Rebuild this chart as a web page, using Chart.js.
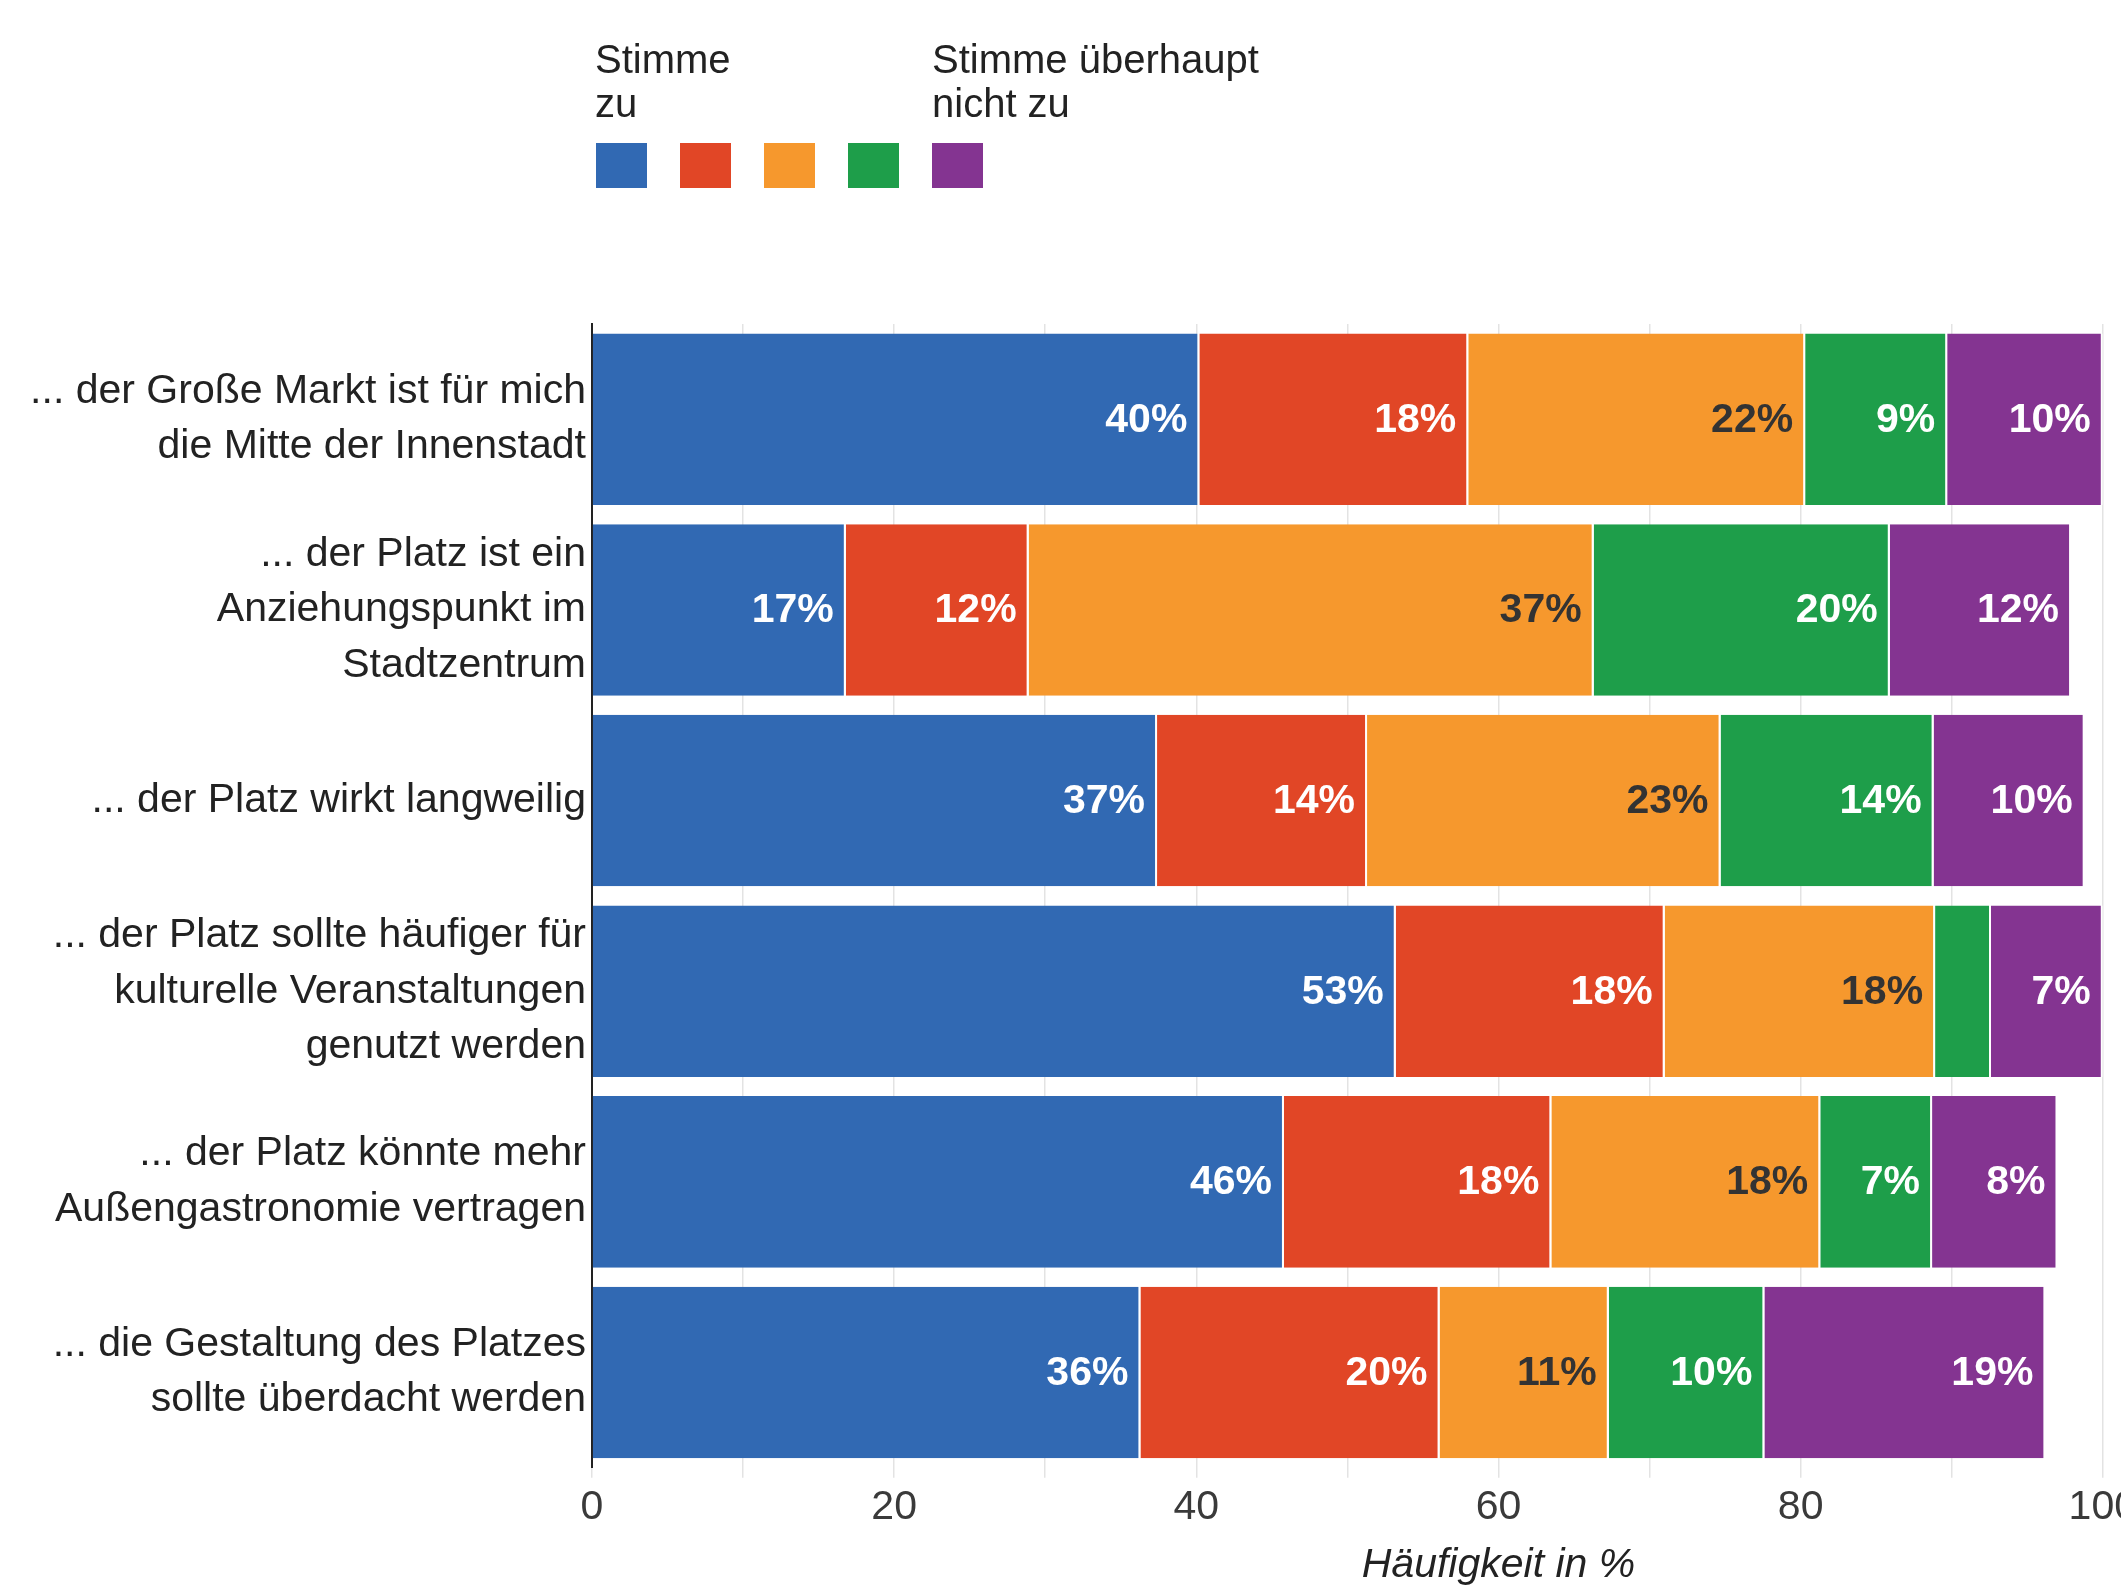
<!DOCTYPE html>
<html lang="de">
<head>
<meta charset="utf-8">
<title>Großer Markt – Befragung</title>
<script src="https://cdn.jsdelivr.net/npm/chart.js@4.4.1/dist/chart.umd.min.js"></script>
<style>
  html, body { margin: 0; padding: 0; background: #fff; overflow: hidden; }
  #wrap { position: relative; width: 2142px; height: 1590px; }
</style>
</head>
<body>
<div id="wrap"><canvas id="grafico-platz"></canvas></div>
<script>
// Aussagen (Kategorien), mehrzeilig
const aussagen = [
  ['... der Große Markt ist für mich', 'die Mitte der Innenstadt'],
  ['... der Platz ist ein', 'Anziehungspunkt im', 'Stadtzentrum'],
  '... der Platz wirkt langweilig',
  ['... der Platz sollte häufiger für', 'kulturelle Veranstaltungen', 'genutzt werden'],
  ['... der Platz könnte mehr', 'Außengastronomie vertragen'],
  ['... die Gestaltung des Platzes', 'sollte überdacht werden']
];

// Anteile in % je Antwortstufe
const stimmeZu      = [40.2, 16.8, 37.4, 53.2, 45.8, 36.3];
const stufe2        = [17.8, 12.1, 13.9, 17.8, 17.7, 19.8];
const stufe3        = [22.3, 37.4, 23.4, 17.9, 17.8, 11.2];
const stufe4        = [9.4, 19.6, 14.1, 3.7, 7.4, 10.3];
const stimmeNichtZu = [10.3, 12.0, 10.0, 7.4, 8.3, 18.6];

const xTicks = [0, 20, 40, 60, 80, 100];

const legendeLinks = ['Stimme', 'zu'];
const legendeRechts = ['Stimme überhaupt', 'nicht zu'];

const farben = ['#3169b3', '#e14626', '#f6982d', '#1e9e4a', '#843491'];
const labelFarben = ['#ffffff', '#ffffff', '#333333', '#ffffff', '#ffffff'];

const schrift = '"Liberation Sans", Arial, Helvetica, sans-serif';

const legendePlugin = {
  id: 'legende',
  afterDraw(chart) {
    const ctx = chart.ctx;
    ctx.save();
    chart.data.datasets.forEach((ds, i) => {
      ctx.fillStyle = ds.backgroundColor;
      ctx.fillRect(596 + i * 84, 143, 51, 45);
    });
    ctx.fillStyle = '#222';
    ctx.font = '40px ' + schrift;
    ctx.textBaseline = 'alphabetic';
    legendeLinks.forEach((t, i) => ctx.fillText(t, 595, 73 + i * 44));
    legendeRechts.forEach((t, i) => ctx.fillText(t, 932, 73 + i * 44));
    ctx.restore();
  }
};

// Prozentwerte rechtsbündig ans Ende jedes Segments
const prozentPlugin = {
  id: 'prozent',
  afterDatasetsDraw(chart) {
    const ctx = chart.ctx;
    ctx.save();
    ctx.font = 'bold 41px ' + schrift;
    ctx.textAlign = 'right';
    ctx.textBaseline = 'middle';
    chart.data.datasets.forEach((ds, i) => {
      const meta = chart.getDatasetMeta(i);
      meta.data.forEach((bar, j) => {
        const wert = ds.data[j];
        if (wert < 5) return;
        ctx.fillStyle = labelFarben[i];
        ctx.fillText(Math.round(wert) + '%', bar.x - 12, bar.y + 1);
      });
    });
    ctx.restore();
  }
};

const achsenTitelPlugin = {
  id: 'achsenTitel',
  afterDraw(chart) {
    const ctx = chart.ctx;
    ctx.save();
    ctx.font = 'italic 41px ' + schrift;
    ctx.fillStyle = '#222';
    ctx.textAlign = 'center';
    ctx.textBaseline = 'middle';
    ctx.fillText('Häufigkeit in %', chart.scales.x.getPixelForValue(60), 1566);
    ctx.restore();
  }
};

function datensatz(label, werte, i) {
  return {
    label: label,
    data: werte,
    backgroundColor: farben[i],
    borderColor: '#ffffff',
    borderWidth: { top: 0, bottom: 0, left: 0, right: 2 },
    borderSkipped: false,
    barPercentage: 0.9,
    categoryPercentage: 1.0
  };
}

const ctxPlatz = document.getElementById('grafico-platz').getContext('2d');

const config = {
  type: 'bar',
  data: {
    labels: aussagen,
    datasets: [
      datensatz('Stimme zu', stimmeZu, 0),
      datensatz('Stufe 2', stufe2, 1),
      datensatz('Stufe 3', stufe3, 2),
      datensatz('Stufe 4', stufe4, 3),
      datensatz('Stimme überhaupt nicht zu', stimmeNichtZu, 4)
    ]
  },
  options: {
    indexAxis: 'y',
    responsive: true,
    maintainAspectRatio: false,
    animation: false,
    layout: { padding: { top: 324, bottom: 53, left: 0, right: 0 } },
    plugins: {
      legend: { display: false },
      tooltip: { enabled: false }
    },
    scales: {
      x: {
        stacked: true,
        min: 0,
        max: 100,
        border: { display: false },
        grid: { color: 'rgba(0,0,0,0.11)', lineWidth: 1.5, tickLength: 10 },
        ticks: {
          stepSize: 10,
          padding: 5,
          color: '#3a3a3a',
          font: { family: schrift, size: 41 },
          callback: v => xTicks.includes(v) ? v : ''
        }
      },
      y: {
        stacked: true,
        afterFit: scale => { scale.width = 592; },
        border: { display: true, color: '#222', width: 2 },
        grid: { display: false, drawTicks: false },
        ticks: {
          padding: 6,
          color: '#222',
          font: { family: schrift, size: 41, lineHeight: 1.35 }
        }
      }
    }
  },
  plugins: [legendePlugin, prozentPlugin, achsenTitelPlugin]
};

const chartPlatz = new Chart(ctxPlatz, config);
</script>
</body>
</html>
